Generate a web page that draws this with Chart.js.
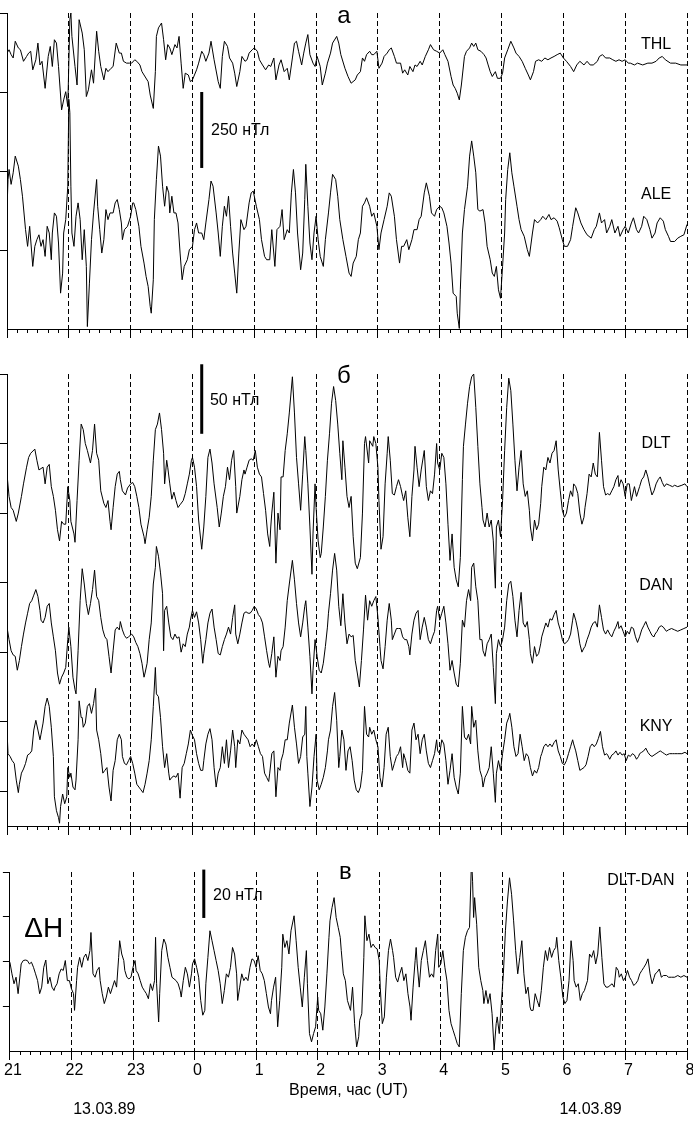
<!DOCTYPE html>
<html>
<head>
<meta charset="utf-8">
<script src="https://cdn.jsdelivr.net/npm/chart.js@4.4.1/dist/chart.umd.min.js"></script>
<style>
    html, body { margin: 0; padding: 0; background: #fff; overflow: hidden; }
    #wrap { position: relative; width: 693px; height: 1124px; }
    #wrap canvas { position: absolute; left: 0; }
</style>
</head>
<body>
<div id="wrap">
    <canvas id="panel-a" width="693" height="340" style="top:0"></canvas>
    <canvas id="panel-b" width="693" height="500" style="top:340px"></canvas>
    <canvas id="panel-c" width="693" height="284" style="top:840px"></canvas>
</div>
<script>
// minutes after 21:00 UT (13.03.89) -> deviation, nT

const THL = [[0,33],[2,44],[4,28],[6,17],[8,72],[11,50],[13,44],[16,6],[19,22],[21,33],[23,39],[25,-22],[28,11],[30,66],[32,-6],[34,6],[37,-83],[40,22],[42,55],[44,-11],[46,77],[48,66],[50,-11],[53,-154],[55,-121],[57,-94],[59,-143],[61,143],[62,165],[63,88],[66,-11],[68,-72],[70,143],[73,99],[75,44],[77,-110],[79,-88],[82,-22],[84,-66],[87,105],[89,39],[91,-11],[94,-55],[96,-17],[98,-28],[101,-17],[103,-11],[106,66],[109,33],[111,33],[113,6],[116,0],[119,0],[121,0],[124,11],[126,6],[129,-6],[131,-28],[133,-39],[137,-61],[139,-105],[142,-149],[144,-28],[145,88],[147,116],[150,132],[152,77],[154,11],[156,61],[158,50],[160,28],[163,61],[165,50],[167,88],[169,0],[171,-83],[173,-33],[176,-39],[178,-61],[180,-55],[184,-22],[186,0],[189,39],[191,28],[193,6],[196,33],[198,72],[201,11],[205,-61],[207,-83],[209,22],[211,72],[214,55],[216,17],[219,0],[221,-33],[223,-77],[226,-28],[228,22],[231,6],[233,11],[235,33],[238,44],[240,50],[243,39],[245,11],[248,-6],[251,-22],[254,-6],[256,-11],[259,17],[261,-55],[264,-6],[266,11],[269,-28],[272,-17],[274,-55],[277,17],[279,66],[281,72],[283,39],[286,-6],[288,33],[290,66],[292,94],[294,28],[297,0],[299,-11],[301,22],[304,-11],[306,-72],[309,-33],[311,0],[314,33],[316,66],[320,88],[322,66],[324,28],[328,-17],[331,-44],[334,-66],[338,-55],[340,-39],[343,-28],[345,17],[347,6],[349,28],[352,39],[354,28],[356,28],[359,39],[361,-17],[364,0],[366,22],[369,33],[371,44],[373,50],[376,22],[378,0],[382,0],[384,-33],[386,-22],[389,-39],[391,-11],[394,-28],[396,-6],[398,-11],[401,6],[403,-6],[406,22],[409,44],[411,61],[414,44],[417,39],[420,33],[423,44],[425,28],[428,6],[431,-44],[433,-72],[435,-83],[437,-99],[439,-121],[441,-72],[444,22],[446,39],[449,50],[451,66],[453,55],[455,66],[457,44],[460,39],[463,28],[465,17],[467,-6],[469,-28],[471,-44],[474,-28],[476,-50],[479,-50],[481,-33],[483,17],[486,44],[489,72],[492,50],[494,33],[497,22],[500,6],[503,-17],[506,-39],[508,-55],[511,-28],[513,6],[516,11],[519,6],[522,17],[525,11],[528,17],[531,22],[534,28],[537,33],[540,17],[543,6],[547,-11],[550,-28],[553,-6],[556,6],[560,-6],[563,6],[566,-6],[569,-6],[573,6],[575,22],[578,28],[581,17],[585,17],[588,11],[591,6],[594,11],[597,6],[600,11],[603,0],[605,0],[609,-6],[612,0],[617,-6],[622,0],[626,0],[630,6],[633,17],[636,22],[639,11],[644,0],[649,0],[654,-6],[660,-6]];

const ALE = [[0,77],[1,176],[2,209],[4,160],[6,198],[8,253],[11,220],[13,176],[15,121],[18,11],[20,-44],[22,22],[25,-110],[27,-44],[29,-22],[31,-6],[33,-44],[35,-22],[37,-77],[39,22],[41,0],[43,-88],[44,0],[46,66],[48,55],[50,-33],[52,-198],[54,-132],[55,0],[57,44],[59,154],[60,440],[61,396],[62,154],[63,0],[65,-44],[67,55],[69,99],[71,44],[73,-88],[75,11],[77,-110],[78,-308],[80,-165],[82,-22],[84,66],[87,176],[88,88],[90,11],[92,-66],[94,-22],[96,77],[98,44],[100,66],[103,66],[105,99],[107,110],[109,77],[111,33],[112,-22],[114,11],[117,22],[120,55],[122,99],[123,99],[125,77],[128,22],[130,-44],[133,-99],[135,-143],[137,-176],[139,-242],[140,-264],[142,-154],[143,44],[145,176],[147,286],[149,253],[151,154],[153,88],[155,154],[157,132],[158,66],[160,121],[162,66],[164,66],[166,33],[168,-66],[170,-154],[172,-110],[175,-88],[177,-55],[180,-44],[182,11],[184,33],[186,0],[189,0],[191,-22],[193,33],[196,110],[198,171],[200,154],[203,66],[205,0],[207,-77],[209,22],[211,88],[213,55],[215,121],[217,22],[219,-66],[221,-132],[223,-198],[225,-66],[227,44],[230,11],[232,22],[235,99],[237,132],[239,138],[242,88],[245,44],[247,-22],[250,-77],[252,-88],[255,-88],[257,11],[260,-110],[262,11],[265,22],[267,77],[269,-22],[272,11],[274,0],[276,132],[278,209],[280,132],[282,0],[285,-121],[287,-66],[289,110],[290,226],[292,88],[294,-33],[296,-88],[298,0],[300,55],[302,-22],[304,-77],[307,-110],[309,-22],[312,66],[314,132],[316,193],[319,176],[321,121],[323,44],[326,-22],[329,-77],[332,-132],[334,-143],[336,-99],[339,-77],[341,-22],[343,0],[345,88],[347,99],[349,116],[352,88],[354,55],[356,66],[359,22],[361,-55],[363,0],[366,44],[369,88],[371,132],[373,121],[376,55],[378,-22],[381,-99],[383,-44],[385,-44],[388,-22],[390,-55],[393,-22],[395,11],[398,11],[400,44],[402,55],[405,132],[407,165],[410,121],[412,66],[415,55],[417,77],[420,88],[422,83],[424,66],[427,22],[429,-33],[431,-99],[433,-198],[436,-209],[437,-264],[439,-314],[440,-187],[442,0],[444,77],[447,154],[449,253],[451,303],[453,253],[455,198],[457,77],[459,72],[462,77],[464,33],[466,-44],[469,-88],[471,-132],[473,-143],[475,-110],[477,-187],[479,-215],[481,-110],[483,0],[484,110],[486,209],[488,264],[490,198],[492,154],[495,88],[497,44],[499,11],[502,-11],[505,-55],[507,-77],[510,0],[512,44],[515,33],[518,44],[520,55],[523,44],[526,61],[528,44],[531,50],[534,39],[536,17],[539,-22],[541,-44],[544,-44],[547,-22],[549,22],[552,83],[554,66],[557,33],[560,11],[563,-6],[567,-17],[570,11],[572,22],[575,66],[577,33],[580,44],[582,0],[585,22],[587,44],[590,0],[593,22],[595,-11],[598,11],[600,22],[603,0],[606,33],[608,50],[611,11],[613,0],[616,22],[618,55],[621,44],[624,11],[626,-17],[629,0],[631,33],[634,50],[637,39],[639,11],[642,-11],[644,-28],[648,-28],[651,-17],[654,-11],[657,-6],[660,28]];

const DLT = [[0,8],[2,-8],[4,-16],[6,-18],[9,-26],[11,-20],[14,-8],[16,1],[19,13],[21,20],[23,23],[27,26],[29,18],[31,11],[33,12],[35,13],[37,1],[39,13],[41,15],[43,-1],[45,-8],[47,-18],[49,-32],[51,-40],[53,-26],[55,-28],[57,-28],[59,-1],[61,-11],[62,-26],[65,-35],[66,-41],[68,-11],[70,18],[72,44],[74,40],[76,30],[78,25],[81,16],[83,25],[85,44],[87,23],[89,18],[91,-4],[94,-13],[96,-16],[98,-11],[100,-26],[101,-32],[103,-16],[105,-1],[107,8],[109,10],[110,4],[112,-4],[115,-7],[117,-2],[120,1],[122,2],[124,-1],[126,-8],[128,-16],[130,-28],[133,-37],[134,-42],[136,-32],[138,-23],[140,-8],[142,18],[144,40],[146,44],[148,52],[150,40],[152,23],[153,1],[155,18],[156,13],[158,1],[160,-10],[162,-5],[164,-11],[166,-16],[168,-14],[171,-11],[173,-6],[175,1],[177,8],[179,18],[180,20],[182,13],[184,-1],[186,-25],[189,-46],[191,-30],[193,-8],[195,20],[197,26],[199,16],[201,1],[204,-16],[206,-30],[208,-20],[210,-8],[212,-1],[214,13],[216,4],[218,18],[220,25],[222,-1],[223,-20],[226,-8],[228,4],[230,11],[231,8],[233,13],[235,18],[237,19],[239,18],[241,25],[243,13],[245,8],[247,6],[249,-6],[251,-18],[253,-35],[255,-44],[256,-30],[257,-20],[259,-5],[261,-56],[263,-20],[265,-32],[266,6],[268,6],[270,25],[272,37],[274,52],[277,78],[279,52],[281,20],[283,1],[285,-18],[287,8],[289,35],[290,25],[292,1],[294,-30],[296,-64],[297,-35],[299,1],[300,-16],[302,-40],[304,-52],[305,-49],[307,-30],[309,-8],[311,18],[313,37],[315,59],[317,71],[319,61],[321,44],[323,23],[325,4],[326,32],[328,13],[330,-8],[332,-16],[334,-8],[336,-37],[338,-56],[340,-60],[343,-52],[345,-20],[347,30],[348,35],[351,16],[352,32],[355,28],[356,35],[358,30],[360,13],[361,-11],[363,-46],[365,-37],[367,1],[369,23],[370,35],[372,18],[374,-6],[376,-7],[378,-1],[380,4],[382,-1],[384,-8],[385,-11],[387,-4],[389,-23],[391,-37],[393,-8],[395,11],[396,28],[398,13],[400,-1],[402,11],[405,25],[407,-1],[409,-11],[411,-4],[413,-6],[415,8],[417,30],[418,16],[420,11],[422,23],[424,20],[426,1],[428,-28],[430,-54],[432,-35],[434,-59],[436,-68],[438,-73],[440,-52],[442,4],[443,28],[445,44],[447,59],[449,71],[451,78],[453,80],[455,56],[457,28],[459,1],[461,-16],[462,-25],[464,-30],[466,-20],[468,-30],[470,-25],[472,-40],[474,-74],[475,-30],[477,-25],[479,-37],[481,-11],[483,25],[485,56],[487,77],[489,68],[491,44],[493,18],[495,-4],[497,13],[499,25],[501,1],[503,-8],[505,-4],[507,-18],[508,-30],[510,-40],[512,-25],[514,-32],[516,-28],[518,-13],[519,-1],[521,13],[523,11],[525,20],[527,16],[529,23],[531,25],[533,32],[535,11],[537,-4],[539,-18],[541,-23],[543,-20],[545,-11],[547,-4],[549,-8],[550,1],[552,-1],[554,-6],[556,-20],[558,-28],[560,-23],[561,-16],[563,-6],[565,8],[567,6],[569,16],[571,8],[573,6],[575,38],[577,18],[579,-1],[581,-7],[583,-6],[585,-7],[587,-4],[589,-1],[591,4],[593,7],[594,-1],[596,4],[598,1],[600,-8],[602,1],[604,1],[606,-11],[609,-1],[611,-8],[614,-1],[616,4],[618,6],[620,11],[622,6],[624,-1],[626,-7],[628,-4],[630,1],[632,4],[634,6],[636,2],[638,-1],[640,1],[643,0],[646,-1],[648,0],[651,-1],[655,0],[658,1],[660,-1]];

const DAN = [[0,1],[2,-8],[4,-16],[6,-19],[8,-20],[10,-30],[12,-23],[14,-13],[16,-4],[18,4],[20,11],[22,18],[24,20],[26,24],[28,28],[30,23],[32,13],[33,6],[35,4],[37,8],[39,16],[41,18],[43,4],[45,-6],[47,-16],[49,-32],[51,-40],[53,-35],[55,-32],[57,-28],[59,-8],[60,1],[62,-13],[64,-35],[66,-44],[67,-47],[69,-16],[71,20],[73,43],[75,32],[77,18],[79,10],[81,18],[83,28],[85,42],[87,23],[89,20],[91,8],[93,-1],[95,-6],[97,-8],[99,-20],[101,-32],[103,-16],[105,-1],[107,1],[109,-1],[110,5],[112,-1],[114,-5],[116,-7],[118,-6],[121,-4],[123,-6],[125,-10],[127,-13],[129,-18],[131,-25],[133,-35],[134,-32],[136,-25],[138,-8],[140,4],[142,32],[144,44],[145,59],[147,52],[149,40],[151,25],[152,-16],[153,13],[155,16],[157,4],[159,-6],[161,-8],[163,-4],[165,-7],[167,-6],[169,-17],[171,-11],[173,-13],[175,-4],[177,1],[178,6],[180,13],[182,8],[184,12],[186,4],[188,-8],[190,-25],[191,-18],[193,-8],[195,4],[197,11],[199,14],[201,1],[203,-8],[205,-18],[207,-19],[209,-13],[211,-8],[213,-4],[215,1],[217,-4],[219,8],[221,17],[222,-4],[224,-11],[226,-4],[228,4],[230,11],[232,12],[234,11],[236,11],[238,13],[240,16],[242,14],[244,10],[246,8],[248,4],[250,-6],[252,-16],[254,-25],[255,-28],[257,-18],[259,-6],[261,-35],[263,-20],[265,-23],[266,-16],[268,-13],[270,1],[272,20],[274,32],[277,49],[279,35],[281,18],[283,4],[285,-6],[287,4],[289,16],[290,20],[292,1],[294,-20],[296,-47],[297,-30],[299,-8],[301,-20],[303,-30],[305,-32],[307,-25],[309,-13],[311,1],[312,11],[314,25],[316,42],[318,54],[320,42],[322,16],[324,2],[326,25],[328,4],[330,-11],[332,-4],[334,-6],[336,-5],[338,-23],[340,-32],[342,-42],[344,-23],[346,-1],[348,24],[350,6],[352,20],[354,16],[356,20],[358,23],[360,8],[362,-13],[363,-23],[365,-29],[367,-13],[369,6],[371,18],[373,6],[374,-8],[376,-4],[378,0],[380,0],[382,0],[384,-6],[386,-8],[388,-8],[390,-13],[391,-19],[393,-4],[395,6],[397,11],[399,13],[401,-8],[403,1],[405,8],[407,1],[409,-8],[411,-11],[413,-6],[415,-2],[417,13],[418,16],[420,6],[422,11],[424,16],[426,4],[428,-11],[430,-30],[432,-23],[434,-32],[436,-40],[438,-42],[440,-25],[442,6],[444,1],[446,20],[448,28],[450,20],[451,44],[453,47],[455,30],[457,20],[459,-8],[461,-8],[462,-16],[464,-20],[466,-11],[468,-8],[470,-4],[472,-28],[474,-54],[475,-18],[477,-8],[479,-13],[481,-8],[483,1],[485,20],[487,32],[489,34],[491,23],[493,6],[495,-6],[497,13],[499,26],[501,4],[503,1],[505,5],[507,-8],[508,-18],[510,-25],[512,-13],[514,-20],[516,-18],[518,-11],[519,-6],[521,-1],[523,4],[525,1],[527,7],[529,6],[531,10],[533,13],[535,4],[537,-1],[539,-8],[541,-11],[543,-10],[545,-8],[547,-4],[549,6],[550,11],[552,6],[554,-1],[556,-11],[558,-17],[560,-14],[561,-13],[563,-8],[565,-4],[567,1],[569,4],[571,5],[573,1],[575,17],[577,8],[579,-1],[581,-4],[583,-1],[585,-4],[587,-6],[589,-2],[591,1],[593,5],[594,0],[596,2],[598,-2],[600,-6],[602,-2],[604,-4],[606,1],[608,0],[610,-6],[612,-10],[614,-6],[616,-1],[618,2],[620,5],[622,1],[624,-2],[626,-5],[628,-6],[629,-4],[631,-2],[633,1],[635,2],[637,1],[640,-2],[642,-1],[645,0],[648,-1],[651,-2],[654,-1],[657,0],[660,1]];

const KNY = [[0,17],[1,0],[3,-2],[5,-5],[7,-7],[9,-19],[11,-28],[12,-22],[14,-14],[16,-11],[18,-7],[20,-1],[22,0],[24,2],[26,17],[28,24],[30,17],[32,10],[33,14],[35,22],[37,34],[39,40],[41,34],[43,19],[45,-2],[46,-31],[48,-41],[50,-46],[51,-50],[52,-38],[54,-29],[56,-36],[58,-31],[59,-10],[61,-17],[62,-14],[64,-24],[66,-26],[67,-19],[69,10],[70,38],[72,26],[73,26],[74,19],[76,22],[78,34],[80,36],[82,29],[84,36],[86,47],[87,17],[89,10],[91,0],[93,-14],[95,-12],[97,-10],[99,-24],[101,-34],[103,-12],[105,-5],[107,10],[109,14],[111,10],[112,-2],[114,-7],[116,-8],[118,-5],[120,-2],[122,-7],[124,-14],[126,-22],[128,-24],[130,-26],[132,-28],[134,-22],[136,-14],[138,-5],[140,10],[142,34],[144,62],[145,43],[147,41],[149,26],[151,5],[153,-10],[155,0],[157,-14],[158,-19],[160,-17],[162,-16],[164,-17],[166,-14],[168,-32],[170,-10],[172,-7],[174,0],[176,7],[178,17],[180,13],[182,10],[184,0],[186,-7],[188,-12],[190,-12],[191,-5],[193,7],[195,14],[197,18],[199,10],[201,-10],[203,-24],[205,-14],[207,-10],[209,5],[211,-7],[213,10],[215,-10],[217,2],[219,17],[221,5],[222,-10],[224,10],[226,7],[228,17],[230,14],[232,12],[234,10],[236,5],[238,7],[240,5],[242,10],[244,5],[246,0],[248,-2],[250,-14],[252,-17],[254,-20],[255,-14],[257,0],[259,2],[261,-31],[263,-10],[265,-12],[266,-5],[268,0],[270,10],[272,10],[274,22],[277,35],[279,19],[281,7],[283,-7],[285,-2],[287,12],[289,14],[290,34],[291,-2],[292,-14],[294,-38],[296,-24],[298,-2],[300,14],[301,-19],[303,-26],[305,-22],[307,-17],[309,-10],[311,2],[312,10],[314,17],[316,34],[318,44],[320,24],[322,-10],[323,-2],[325,17],[327,10],[329,-12],[331,2],[333,5],[335,-5],[337,-19],[339,-26],[341,-28],[343,-24],[345,-12],[347,34],[349,14],[351,12],[352,19],[354,14],[356,17],[358,10],[360,5],[362,-17],[364,-24],[366,-10],[368,14],[370,19],[372,-2],[374,-12],[376,-7],[378,-2],[380,0],[382,5],[384,-10],[385,0],[387,-5],[389,-12],[391,-14],[393,17],[395,22],[397,10],[399,14],[401,0],[403,10],[405,14],[407,2],[409,-7],[411,-10],[413,-5],[415,0],[417,10],[418,2],[420,0],[422,10],[424,7],[426,-5],[428,-22],[430,-12],[432,0],[434,-17],[436,-24],[438,-29],[440,-14],[442,34],[444,12],[446,10],[448,14],[450,7],[451,34],[453,19],[455,24],[457,2],[459,-12],[461,-17],[462,-24],[464,-17],[466,-14],[468,-10],[470,5],[472,-14],[474,-35],[475,-14],[477,-5],[479,-12],[481,0],[483,10],[485,22],[487,26],[488,29],[490,19],[492,5],[494,-2],[496,0],[498,14],[500,5],[502,-5],[504,0],[506,-2],[508,-10],[510,-16],[512,-12],[514,-14],[516,-10],[518,-2],[519,0],[521,5],[523,7],[525,5],[527,7],[529,5],[531,8],[533,10],[535,2],[537,-2],[539,-7],[541,-8],[543,-5],[545,0],[547,5],[549,10],[550,7],[552,2],[554,-5],[556,-12],[558,-11],[560,-10],[562,-8],[564,-2],[566,5],[568,7],[570,5],[572,7],[574,11],[576,16],[578,5],[580,-1],[582,0],[583,-1],[585,-4],[587,-1],[589,0],[591,2],[593,-1],[595,1],[597,-1],[599,0],[601,-5],[603,-1],[605,-2],[607,0],[609,-1],[611,-4],[613,-2],[614,0],[616,1],[618,2],[620,4],[622,1],[624,-1],[626,-2],[628,-1],[630,0],[632,1],[634,2],[636,1],[638,0],[640,-1],[643,0],[646,0],[648,0],[651,0],[655,0],[658,1],[660,0]];

const DLT_DAN = [[0,5.5],[2,0.7],[4,-3.4],[6,-0.7],[8,-7.5],[10,0.7],[11,4.8],[13,6.2],[15,6.4],[17,6.2],[19,4.8],[21,5.5],[23,3.4],[25,0.7],[27,-2.1],[29,-7.5],[31,-4.8],[33,3.4],[35,6.4],[37,-3.4],[39,-0.7],[41,-4.8],[43,-6.2],[44,-4.8],[46,-3.4],[48,0.7],[50,2.7],[52,2.1],[54,6.2],[56,-2.1],[58,-2.1],[60,-5.5],[62,-7.5],[63,-14.4],[65,-2.1],[66,3.4],[68,7.5],[70,3.4],[72,7.5],[74,8.9],[76,6.2],[78,10.3],[79,17.8],[81,0.7],[83,-0.7],[85,2.1],[87,3.4],[88,-2.1],[90,-7.5],[92,-11.6],[94,-8.9],[96,-4.8],[98,-7.5],[100,-4.8],[102,-2.1],[104,-4.8],[106,7.5],[107,14.4],[109,8.9],[111,6.2],[112,2.1],[114,-0.7],[116,-1.4],[118,-0.7],[120,3.4],[122,6.2],[123,2.1],[125,0.7],[127,-2.1],[129,-4.8],[131,-6.2],[133,-7.5],[135,-9.6],[137,-3.4],[139,-6.2],[141,-2.1],[142,15.8],[143,-3.4],[145,-19.2],[146,-7.5],[148,10.3],[150,15.1],[152,13],[154,7.5],[156,3.4],[158,-0.7],[160,-1.4],[162,-2.1],[164,-3.4],[166,-6.2],[167,-8.9],[169,-2.1],[171,3.4],[173,0.7],[175,-4.8],[177,0.7],[178,4.8],[180,6.9],[182,3.4],[184,-0.7],[186,-10.3],[188,-16.4],[190,-14.4],[191,-3.4],[193,7.5],[195,18.5],[197,14.4],[199,10.3],[201,6.2],[203,2.1],[205,-3.4],[207,-11.6],[209,-6.2],[211,0.7],[213,-0.7],[215,3.4],[217,11.6],[219,8.9],[221,0.7],[222,-10.3],[224,-4.8],[226,0.7],[228,-2.1],[230,-0.7],[232,-2.1],[234,3.4],[236,6.9],[238,6.2],[240,3.4],[242,8.2],[244,2.1],[246,0.7],[248,-2.1],[250,-7.5],[252,-13],[254,-15.8],[255,-10.3],[257,-4.8],[259,-0.7],[261,-21.2],[263,-10.3],[265,3.4],[266,17.1],[268,11.6],[270,14.4],[272,8.9],[274,18.5],[277,24.7],[279,14.4],[281,3.4],[283,-4.8],[285,-13],[287,-0.7],[289,10.3],[290,-3.4],[292,-24],[294,-27.4],[296,-24],[298,-21.2],[300,-8.9],[301,-14.4],[303,-15.8],[305,-22.6],[307,-13],[309,0.7],[311,15.8],[312,22.6],[314,28.1],[316,32.2],[318,24],[320,19.9],[322,15.8],[323,10.3],[325,0.7],[327,-2.1],[329,-10.3],[332,-14.4],[334,-4.8],[336,-19.9],[338,-29.5],[340,-25.3],[341,-18.5],[343,-15.8],[345,7.5],[346,24.7],[348,14.4],[350,17.1],[352,11.6],[354,13],[356,11.6],[358,11],[360,6.2],[361,-4.8],[363,-19.9],[365,-17.1],[367,-0.7],[369,10.3],[371,15.1],[373,10.3],[374,7.5],[376,-0.7],[378,-2.7],[380,0.7],[382,3.4],[384,-2.1],[386,0.7],[388,-7.5],[390,-13],[391,-18.5],[393,-4.8],[395,6.2],[396,11.6],[397,4.8],[399,-4.8],[401,6.2],[403,10.3],[405,14.4],[407,6.2],[409,-0.7],[411,0.7],[413,-0.7],[415,10.3],[417,17.1],[418,3.4],[420,4.8],[422,10.3],[424,3.4],[426,-2.1],[428,-14.4],[430,-19.9],[432,-22.6],[434,-25.3],[436,-28.1],[438,-29.5],[440,-7.5],[442,10.3],[444,15.8],[446,18.5],[448,19.9],[450,48.6],[451,39],[452,24],[453,32.2],[455,21.2],[457,3.4],[459,-2.1],[461,-6.2],[462,-11.6],[464,-6.2],[466,-11.6],[468,-7.5],[470,-15.8],[472,-30.8],[474,-19.9],[475,-17.1],[477,-24],[479,-11.6],[481,0.7],[483,18.5],[485,30.8],[487,40.4],[489,33.6],[491,22.6],[493,10.3],[495,0.7],[497,7.5],[499,14.4],[501,0.7],[503,-7.5],[505,-4.8],[507,-13],[508,-14.4],[510,-14.4],[512,-7.5],[514,-10.3],[516,-13],[518,-6.2],[520,3.4],[522,10.3],[524,6.2],[526,11.6],[528,7.5],[530,10.3],[532,11.6],[533,15.8],[535,6.2],[537,-0.7],[539,-8.9],[541,-11.6],[543,-10.3],[545,-2.1],[547,14.4],[549,6.2],[550,-2.1],[552,-4.8],[554,-3.4],[556,-10.3],[558,-7.5],[560,-6.2],[561,-4.8],[563,-2.1],[565,8.9],[567,7.5],[569,10.3],[571,4.8],[573,8.9],[575,20.1],[577,7.5],[579,-3.4],[581,-4.8],[583,-4.8],[585,-4.1],[587,-3.4],[589,-4.8],[591,3.4],[593,2.1],[594,-0.7],[596,0.7],[598,-2.1],[600,-0.7],[602,2.1],[604,-0.7],[606,-2.1],[608,-4.1],[610,-3.4],[612,-2.1],[614,0.7],[616,2.1],[618,3.4],[620,4.8],[622,6.9],[624,0.7],[626,-3.4],[628,-0.7],[629,0.7],[631,1.4],[633,2.7],[635,-0.7],[637,0],[640,0],[642,-0.7],[645,-0.7],[648,-0.7],[651,0],[654,-0.7],[657,0],[660,-0.7]];

// time axis: 21 UT .. 08 UT
const HOUR_TICKS = [0, 60, 120, 180, 240, 300, 360, 420, 480, 540, 600, 660];
const HOUR_LABELS = ['21', '22', '23', '0', '1', '2', '3', '4', '5', '6', '7', '8'];

// left-axis tick values of each panel (nT)
const Y_TICKS_A = [260, 520, 780, 1040];
const Y_TICKS_B = [25, 75, 125, 175, 225, 275, 325];
const Y_TICKS_C = [18.5, 37, 55.5, 74];

const FONT = "'Liberation Sans', Arial, sans-serif";
Chart.defaults.font.family = FONT;
Chart.defaults.font.size = 16;
Chart.defaults.color = '#000';

const MINOR_TICKS = [];
for (let m = 10; m < 660; m += 10) {
    if (m % 60) MINOR_TICKS.push(m);
}

/**
 * Texts placed in data coordinates (minutes, nT)
 */
const panelText = {
    id: 'panelText',
    afterDatasetsDraw(chart, args, opts) {
        const { ctx, scales } = chart;
        ctx.save();
        ctx.fillStyle = '#000';
        ctx.textBaseline = 'alphabetic';
        (opts.items || []).forEach(item => {
            ctx.font = `${item.size || 16}px ${FONT}`;
            ctx.textAlign = item.align || 'center';
            ctx.fillText(item.text, scales.x.getPixelForValue(item.t), scales.y.getPixelForValue(item.v));
        });
        ctx.restore();
    }
};

const trace = (series, base) => ({
    data: series.map(([t, v]) => ({ x: t, y: base + v })),
    xAxisID: 'x',
    yAxisID: 'y',
    borderColor: '#000',
    borderWidth: 1,
    pointRadius: 0,
    tension: 0,
    fill: false
});

const scaleBar = (t, from, size) => ({
    data: [{ x: t, y: from }, { x: t, y: from + size }],
    xAxisID: 'x',
    yAxisID: 'y',
    borderColor: '#000',
    borderWidth: 3,
    pointRadius: 0,
    clip: false
});

function createPanel(canvasId, cfg) {
    const ctx = document.getElementById(canvasId);
    return new Chart(ctx, {
        type: 'line',
        data: { datasets: cfg.datasets },
        options: {
            responsive: false,
            animation: false,
            events: [],
            layout: { padding: cfg.padding, autoPadding: false },
            plugins: {
                legend: { display: false },
                tooltip: { enabled: false },
                panelText: { items: cfg.texts }
            },
            scales: {
                x: {
                    type: 'linear',
                    position: 'bottom',
                    weight: 1,
                    min: 0,
                    max: 660,
                    afterBuildTicks: s => { s.ticks = HOUR_TICKS.map(v => ({ value: v })); },
                    afterFit: s => { s.height = cfg.axisHeight; },
                    ticks: {
                        display: cfg.showLabels,
                        autoSkip: false,
                        maxRotation: 0,
                        padding: 1,
                        labelOffset: 3,
                        font: { size: 16 },
                        callback: (value, index) => HOUR_LABELS[index]
                    },
                    title: {
                        display: cfg.showLabels,
                        text: 'Время, час (UT)',
                        font: { size: 16 },
                        padding: { top: 0, bottom: 0 }
                    },
                    grid: {
                        drawOnChartArea: true,
                        color: '#000',
                        tickColor: '#000',
                        tickLength: 9,
                        lineWidth: 1
                    },
                    border: { display: true, color: '#000', width: 1, dash: [5, 3] }
                },
                xMinor: {
                    type: 'linear',
                    axis: 'x',
                    position: 'bottom',
                    weight: 0,
                    min: 0,
                    max: 660,
                    afterBuildTicks: s => { s.ticks = MINOR_TICKS.map(v => ({ value: v })); },
                    afterFit: s => { s.height = 0; },
                    ticks: { display: false },
                    grid: { drawOnChartArea: false, color: '#000', tickLength: 4 },
                    border: { display: false }
                },
                y: {
                    type: 'linear',
                    position: 'left',
                    min: 0,
                    max: cfg.yMax,
                    afterBuildTicks: s => { s.ticks = cfg.yTicks.map(v => ({ value: v })); },
                    afterFit: s => { s.width = 7; },
                    ticks: { display: false },
                    grid: { drawOnChartArea: false, color: '#000', tickLength: 7 },
                    border: { display: true, color: '#000', width: 1 }
                }
            }
        },
        plugins: [panelText]
    });
}

// а: THL, ALE
createPanel('panel-a', {
    padding: { top: 13, bottom: 2, left: 0, right: 6 },
    axisHeight: 9,
    showLabels: false,
    yMax: 1040,
    yTicks: Y_TICKS_A,
    datasets: [trace(THL, 875), trace(ALE, 316), scaleBar(189, 530, 250)],
    texts: [
        { text: 'а', t: 327, v: 1007, size: 24 },
        { text: 'THL', t: 630, v: 921 },
        { text: 'ALE', t: 630, v: 428 },
        { text: '250 нТл', t: 198, v: 638, align: 'left' }
    ]
});

// б: DLT, DAN, KNY
createPanel('panel-b', {
    padding: { top: 34, bottom: 5, left: 0, right: 6 },
    axisHeight: 9,
    showLabels: false,
    yMax: 325,
    yTicks: Y_TICKS_B,
    datasets: [trace(DLT, 245), trace(DAN, 142), trace(KNY, 52), scaleBar(189, 282, 50)],
    texts: [
        { text: 'б', t: 327, v: 318.5, size: 24 },
        { text: 'DLT', t: 630, v: 272 },
        { text: 'DAN', t: 630, v: 170 },
        { text: 'KNY', t: 630, v: 68 },
        { text: '50 нТл', t: 197, v: 303, align: 'left' }
    ]
});

// в: DLT-DAN
createPanel('panel-c', {
    padding: { top: 32, bottom: 24, left: 0, right: 6 },
    axisHeight: 49,
    showLabels: true,
    yMax: 74,
    yTicks: Y_TICKS_C,
    datasets: [trace(DLT_DAN, 31.2), scaleBar(189, 55, 20)],
    texts: [
        { text: 'в', t: 327, v: 71, size: 24 },
        { text: 'DLT-DAN', t: 615, v: 68.5 },
        { text: '20 нТл', t: 198, v: 62.3, align: 'left' },
        { text: 'ΔH', t: 33, v: 47, size: 28 },
        { text: '13.03.89', t: 92, v: -26 },
        { text: '14.03.89', t: 566, v: -26 }
    ]
});
</script>
</body>
</html>
